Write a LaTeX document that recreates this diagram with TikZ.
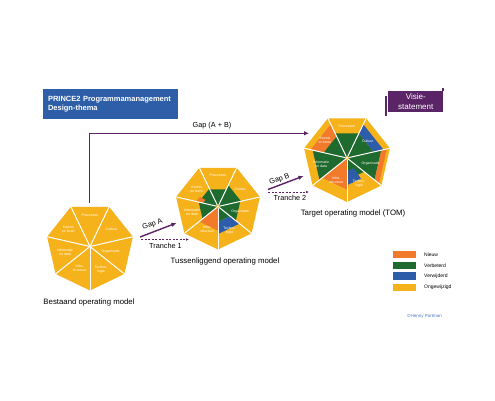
\documentclass[tikz,border=0pt]{standalone}
\usepackage{fontspec}
\setmainfont{Liberation Sans}
\usetikzlibrary{arrows.meta}
\definecolor{ongew}{HTML}{F6B21B}
\definecolor{nieuw}{HTML}{F27A2B}
\definecolor{verb}{HTML}{1F6A2E}
\definecolor{verw}{HTML}{2D5CA8}
\definecolor{titleblue}{HTML}{2E5EA8}
\definecolor{purp}{HTML}{5A2466}
\definecolor{credit}{HTML}{4A74C4}
% band of heptagon segment: cx cy R k f1 f2 t1 t2 colour
\newcommand\hband[9]{%
  \pgfmathsetmacro\hbL{90-#4*360/7+180/7}%
  \pgfmathsetmacro\hbR{90-#4*360/7-180/7}%
  \pgfmathsetmacro\hbLx{#3*cos(\hbL)}\pgfmathsetmacro\hbLy{-#3*sin(\hbL)}%
  \pgfmathsetmacro\hbRx{#3*cos(\hbR)}\pgfmathsetmacro\hbRy{-#3*sin(\hbR)}%
  \fill[#9] ({#1+#5*((1-#7)*\hbLx+#7*\hbRx)},{#2+#5*((1-#7)*\hbLy+#7*\hbRy)})
    -- ({#1+#5*((1-#8)*\hbLx+#8*\hbRx)},{#2+#5*((1-#8)*\hbLy+#8*\hbRy)})
    -- ({#1+#6*((1-#8)*\hbLx+#8*\hbRx)},{#2+#6*((1-#8)*\hbLy+#8*\hbRy)})
    -- ({#1+#6*((1-#7)*\hbLx+#7*\hbRx)},{#2+#6*((1-#7)*\hbLy+#7*\hbRy)}) -- cycle;}
\newcommand\hbase[3]{\foreach \hk in {0,...,6}{\hband{#1}{#2}{#3}{\hk}{0}{1}{0}{1}{ongew}}}
\newcommand\hdiv[3]{\foreach \hk in {0,...,6}{\draw[white,line width=1pt] (#1,#2) -- ({#1+#3*cos(90-\hk*360/7+180/7)},{#2-#3*sin(90-\hk*360/7+180/7)});}}
\newcommand\hlab[7]{\node[seglab] (#1) at ({#2+#6*#4*cos(90-#5*360/7)},{#3-#6*#4*sin(90-#5*360/7)}) {#7};}
\begin{document}
\begin{tikzpicture}[x=1pt,y=-1pt,
  seglab/.style={text=white,font=\fontsize{3.5}{3.9}\selectfont,align=center,inner sep=0pt},
  gaparrow/.style={draw=purp,line width=1.4pt,-{Latex[length=5pt,width=4.5pt]}},
  tranche/.style={draw=purp,line width=0.7pt,dash pattern=on 2pt off 1.5pt,-{Latex[length=3pt,width=2.6pt]}},
  lbl/.style={font=\fontsize{7.3}{8.5}\selectfont,inner sep=0.5pt},
  modlbl/.style={font=\fontsize{7.8}{9}\selectfont,inner sep=0.5pt},
  legbox/.style={minimum width=23pt,minimum height=7.6pt,inner sep=0pt},
  legtext/.style={anchor=west,font=\fontsize{5}{6}\selectfont,inner sep=0pt},
  hub/.style={circle,draw=ongew,fill=white,line width=0.6pt,minimum size=3.6pt,inner sep=0pt},
]
\path[use as bounding box,fill=white] (0,0) rectangle (495,400);

% title
\node[fill=titleblue,text=white,text width=125pt,inner sep=5pt,minimum height=30pt,align=left,
  font=\bfseries\fontsize{7.5}{9.4}\selectfont] (title) at (110.5,104) {\hyphenpenalty=10000 PRINCE2 Programmamanagement\\Design-thema};

% visie-statement banner
\node[fill=purp,text=white,minimum width=55pt,minimum height=21.3pt,inner sep=0pt,align=center,
  font=\fontsize{8}{9.4}\selectfont] (visie) at (415.8,101.7) {Visie-\\statement};
\fill[purp] (385.3,96) rectangle (387.3,116);
\fill[purp] (441.6,88) rectangle (443.8,91);

% ---------- heptagon 1 : bestaand ----------
\hbase{90}{246.5}{44}
\hdiv{90}{246.5}{44}
\hlab{h1a}{90}{246.5}{44}{0}{0.70}{Processen}
\hlab{h1b}{90}{246.5}{44}{1}{0.62}{Cultuur}
\hlab{h1c}{90}{246.5}{44}{2}{0.48}{Organisatie}
\hlab{h1d}{90}{246.5}{44}{3}{0.58}{Techno-\\logie}
\hlab{h1e}{90}{246.5}{44}{4}{0.54}{Infra-\\structuur}
\hlab{h1f}{90}{246.5}{44}{5}{0.58}{Informatie\\en data}
\hlab{h1g}{90}{246.5}{44}{6}{0.63}{Kennis\\en leren}

% ---------- heptagon 2 : tussenliggend ----------
\hbase{218}{206.5}{43}
\hband{218}{206.5}{43}{0}{0}{0.44}{0}{1}{verb}
\hband{218}{206.5}{43}{1}{0}{0.55}{0}{1}{verb}
\hband{218}{206.5}{43}{2}{0}{0.53}{0}{1}{verb}
\hband{218}{206.5}{43}{3}{0}{0.36}{0}{1}{verb}
\hband{218}{206.5}{43}{3}{0.36}{0.64}{0}{1}{verw}
\hband{218}{206.5}{43}{4}{0}{0.56}{0}{1}{nieuw}
\hband{218}{206.5}{43}{5}{0}{0.46}{0}{1}{verb}
\hband{218}{206.5}{43}{6}{0}{0.46}{0}{1}{verb}
\hband{218}{206.5}{43}{6}{0.36}{0.52}{0}{0.3}{nieuw}
\hdiv{218}{206.5}{43}
\node[hub] (h2hub) at (218,206.5) {};
\hlab{h2a}{218}{206.5}{43}{0}{0.72}{Processen}
\hlab{h2b}{218}{206.5}{43}{1}{0.66}{Cultuur}
\hlab{h2c}{218}{206.5}{43}{2}{0.53}{Organisatie}
\hlab{h2d}{218}{206.5}{43}{3}{0.62}{Techno-\\logie}
\hlab{h2e}{218}{206.5}{43}{4}{0.58}{Infra-\\structuur}
\hlab{h2f}{218}{206.5}{43}{5}{0.62}{Informatie\\en data}
\hlab{h2g}{218}{206.5}{43}{6}{0.63}{Kennis\\en leren}

% ---------- heptagon 3 : target ----------
\hbase{347}{158}{44}
\hband{347}{158}{44}{0}{0}{0.62}{0}{1}{verb}
\hband{347}{158}{44}{1}{0}{0.62}{0}{1}{verb}
\hband{347}{158}{44}{1}{0.62}{0.85}{0}{1}{verw}
\hband{347}{158}{44}{2}{0}{0.80}{0}{1}{verb}
\hband{347}{158}{44}{2}{0.80}{0.93}{0}{1}{nieuw}
\hband{347}{158}{44}{3}{0}{0.50}{0}{1}{verb}
\hband{347}{158}{44}{3}{0.30}{0.62}{0.35}{1}{verw}
\hband{347}{158}{44}{4}{0}{0.72}{0}{1}{nieuw}
\hband{347}{158}{44}{5}{0}{0.80}{0}{1}{verb}
\hband{347}{158}{44}{6}{0}{0.55}{0}{1}{verb}
\hband{347}{158}{44}{6}{0.55}{0.85}{0}{1}{nieuw}
\hdiv{347}{158}{44}
\node[hub] (h3hub) at (347,158) {};
\hlab{h3a}{347}{158}{44}{0}{0.72}{Processen}
\hlab{h3b}{347}{158}{44}{1}{0.60}{Cultuur}
\hlab{h3c}{347}{158}{44}{2}{0.55}{Organisatie}
\hlab{h3d}{347}{158}{44}{3}{0.64}{Techno-\\logie}
\hlab{h3e}{347}{158}{44}{4}{0.55}{Infra-\\structuur}
\hlab{h3f}{347}{158}{44}{5}{0.60}{Informatie\\en data}
\hlab{h3g}{347}{158}{44}{6}{0.64}{Kennis\\en leren}

% ---------- connectors ----------
\coordinate (gabs) at (89.5,203);
\coordinate (gabc) at (89.5,133.3);
\coordinate (gabe) at (309,133.3);
\draw[gaparrow] (gabs) -- (gabc) -- (gabe);
\node[lbl] (gablab) at (212,125.5) {Gap (A + B)};

\coordinate (gas) at (140,237);
\coordinate (gae) at (176.5,223);
\draw[gaparrow] (gas) -- (gae);
\node[lbl,rotate=21] (galab) at (152.5,224.5) {Gap A};
\coordinate (t1s) at (141,239.5);
\coordinate (t1e) at (189,239.5);
\draw[tranche] (t1s) -- (t1e);
\node[lbl] (t1lab) at (165.5,245.5) {Tranche 1};

\coordinate (gbs) at (268,189.5);
\coordinate (gbe) at (303.5,176);
\draw[gaparrow] (gbs) -- (gbe);
\node[lbl,rotate=21] (gblab) at (279.5,179.5) {Gap B};
\coordinate (t2s) at (268,192);
\coordinate (t2e) at (309,192);
\draw[tranche] (t2s) -- (t2e);
\node[lbl] (t2lab) at (290,197.8) {Tranche 2};

% ---------- model labels ----------
\node[modlbl] (m1) at (89,302) {Bestaand operating model};
\node[modlbl] (m2) at (225,261) {Tussenliggend operating model};
\node[modlbl] (m3) at (353,213) {Target operating model (TOM)};

% ---------- legend ----------
\node[legbox,fill=nieuw] (l1) at (404.7,254.5) {};
\node[legbox,fill=verb] (l2) at (404.7,265.5) {};
\node[legbox,fill=verw] (l3) at (404.7,276.2) {};
\node[legbox,fill=ongew] (l4) at (404.7,287.5) {};
\node[legtext] (l1t) at (424,254.5) {Nieuw};
\node[legtext] (l2t) at (424,265.5) {Verbeterd};
\node[legtext] (l3t) at (424,276.2) {Verwijderd};
\node[legtext] (l4t) at (424,287.5) {Ongewijzigd};
\node[font=\fontsize{4.5}{5}\selectfont,text=credit,inner sep=0pt] (cr) at (424.5,316) {©Henny Portman};
\end{tikzpicture}
\end{document}
